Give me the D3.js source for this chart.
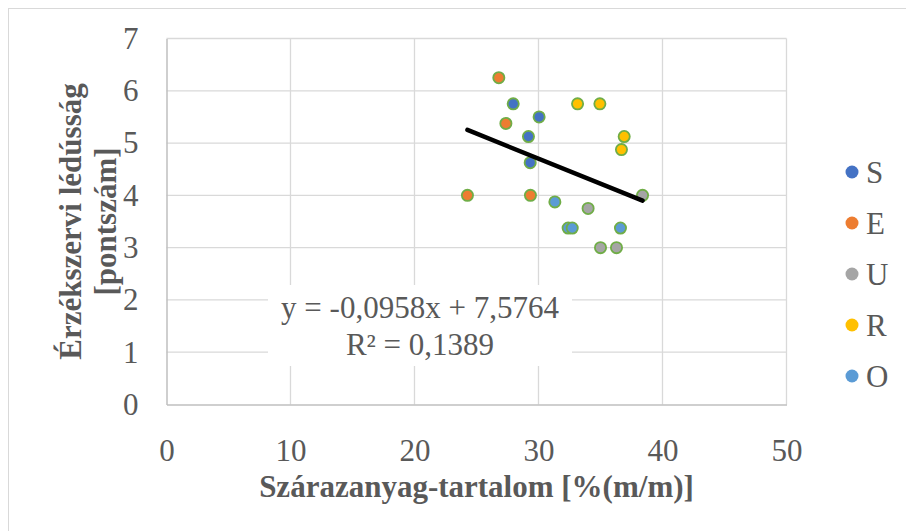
<!DOCTYPE html>
<html>
<head>
<meta charset="utf-8">
<script src="https://cdn.jsdelivr.net/npm/d3@7"></script>
<style>
  html, body { margin: 0; padding: 0; background: #fff; }
  svg { display: block; }
  text { font-family: 'Liberation Serif', 'Times New Roman', serif; fill: #595959; }
</style>
</head>
<body>
<script>
// series, in Excel drawing order
var seriesNames = ['S', 'E', 'U', 'R', 'O']
var seriesColors = ['#4472C4', '#ED7D31', '#A5A5A5', '#FFC000', '#5B9BD5']

var sX = [27.96, 30.05, 29.19, 29.33]
var sY = [5.75, 5.5, 5.125, 4.625]
var eX = [26.8, 27.37, 24.27, 29.35]
var eY = [6.25, 5.375, 4, 4]
var uX = [34.0, 38.39, 35.0, 36.29]
var uY = [3.75, 4, 3, 3]
var rX = [33.15, 34.95, 36.91, 36.69]
var rY = [5.75, 5.75, 5.125, 4.875]
var oX = [31.32, 32.39, 32.72, 36.61]
var oY = [3.875, 3.375, 3.375, 3.375]

var xTicks = [0, 10, 20, 30, 40, 50]
var yTicks = [0, 1, 2, 3, 4, 5, 6, 7]

// linear trendline as reported by Excel
var slope = -0.0958
var intercept = 7.5764
var eqLines = ['y = -0,0958x + 7,5764', 'R² = 0,1389']

var xTitle = 'Szárazanyag-tartalom [%(m/m)]'
var yTitle = ['Érzékszervi lédússág', '[pontszám]']

var width = 906
var height = 531
var fontSize = 31

var svg = d3.select('body').append('svg')
  .attr('width', width)
  .attr('height', height)

// chart border (right and bottom edges fall outside the picture)
svg.append('rect')
  .attr('x', 8.5)
  .attr('y', 8.5)
  .attr('width', 920)
  .attr('height', 540)
  .style('fill', '#fff')
  .style('stroke', '#d9d9d9')
  .style('stroke-width', 1)

var x = d3.scaleLinear().domain([0, 50]).range([166.5, 786.5])
var y = d3.scaleLinear().domain([0, 7]).range([404.5, 38.5])

// gridlines
var grid = svg.append('g')
grid.selectAll('line.v')
  .data(xTicks.slice(1))
  .enter().append('line')
  .attr('x1', function (d) { return x(d) })
  .attr('x2', function (d) { return x(d) })
  .attr('y1', y(0))
  .attr('y2', y(7))
  .style('stroke', '#d9d9d9')
  .style('stroke-width', 1.3)
grid.selectAll('line.h')
  .data(yTicks.slice(1))
  .enter().append('line')
  .attr('x1', x(0))
  .attr('x2', x(50))
  .attr('y1', function (d) { return y(d) })
  .attr('y2', function (d) { return y(d) })
  .style('stroke', '#d9d9d9')
  .style('stroke-width', 1.3)

// axes
var xAxis = d3.axisBottom(x).tickValues(xTicks).tickSize(0).tickPadding(34)
  .tickFormat(d3.format('d'))
var yAxis = d3.axisLeft(y).tickValues(yTicks).tickSize(0).tickPadding(28)
  .tickFormat(d3.format('d'))

var gx = svg.append('g')
  .attr('transform', 'translate(0,' + y(0) + ')')
  .call(xAxis)
var gy = svg.append('g')
  .attr('transform', 'translate(' + x(0) + ',0)')
  .call(yAxis)

;[gx, gy].forEach(function (g) {
  g.attr('font-family', null).attr('font-size', null)
  g.select('.domain').style('stroke', '#bfbfbf').style('stroke-width', 1.5)
  g.selectAll('text')
    .style('font-family', "'Liberation Serif', serif")
    .style('font-size', fontSize + 'px')
    .style('fill', '#595959')
})

// axis titles
svg.append('text')
  .attr('x', (x(0) + x(50)) / 2)
  .attr('y', 497)
  .attr('text-anchor', 'middle')
  .style('font-size', fontSize + 'px')
  .style('font-weight', 'bold')
  .text(xTitle)

var yt = svg.append('text')
  .attr('transform', 'translate(81,' + ((y(0) + y(7)) / 2) + ') rotate(-90)')
  .attr('text-anchor', 'middle')
  .style('font-size', fontSize + 'px')
  .style('font-weight', 'bold')
yt.selectAll('tspan')
  .data(yTitle)
  .enter().append('tspan')
  .attr('x', 0)
  .attr('dy', function (d, i) { return i === 0 ? 0 : 35 })
  .text(function (d) { return d })

// trendline label box
svg.append('rect')
  .attr('x', 268)
  .attr('y', 285)
  .attr('width', 304)
  .attr('height', 81)
  .style('fill', '#fff')

svg.append('text')
  .attr('text-anchor', 'middle')
  .style('font-size', fontSize + 'px')
  .selectAll('tspan')
  .data(eqLines)
  .enter().append('tspan')
  .attr('x', 420)
  .attr('y', function (d, i) { return 318 + i * 37 })
  .text(function (d) { return d })

// points
var seriesX = [sX, eX, uX, rX, oX]
var seriesY = [sY, eY, uY, rY, oY]
var allX = []

seriesNames.forEach(function (name, si) {
  var pts = seriesX[si].map(function (v, i) { return [v, seriesY[si][i]] })
  allX = allX.concat(seriesX[si])
  svg.append('g').selectAll('circle')
    .data(pts)
    .enter().append('circle')
    .attr('cx', function (d) { return x(d[0]) })
    .attr('cy', function (d) { return y(d[1]) })
    .attr('r', 5.6)
    .style('fill', seriesColors[si])
    .style('stroke', '#70AD47')
    .style('stroke-width', 1.8)
})

// trendline across the data range
var xExt = d3.extent(allX)
svg.append('line')
  .attr('x1', x(xExt[0]))
  .attr('y1', y(slope * xExt[0] + intercept))
  .attr('x2', x(xExt[1]))
  .attr('y2', y(slope * xExt[1] + intercept))
  .style('stroke', '#000')
  .style('stroke-width', 4.5)
  .style('stroke-linecap', 'round')

// legend
var legend = svg.append('g').selectAll('g')
  .data(seriesNames)
  .enter().append('g')
  .attr('transform', function (d, i) { return 'translate(852,' + (172 + i * 51) + ')' })
legend.append('circle')
  .attr('r', 6.5)
  .style('fill', function (d, i) { return seriesColors[i] })
legend.append('text')
  .attr('x', 14)
  .attr('y', 10.5)
  .style('font-size', fontSize + 'px')
  .text(function (d) { return d })
</script>
</body>
</html>
